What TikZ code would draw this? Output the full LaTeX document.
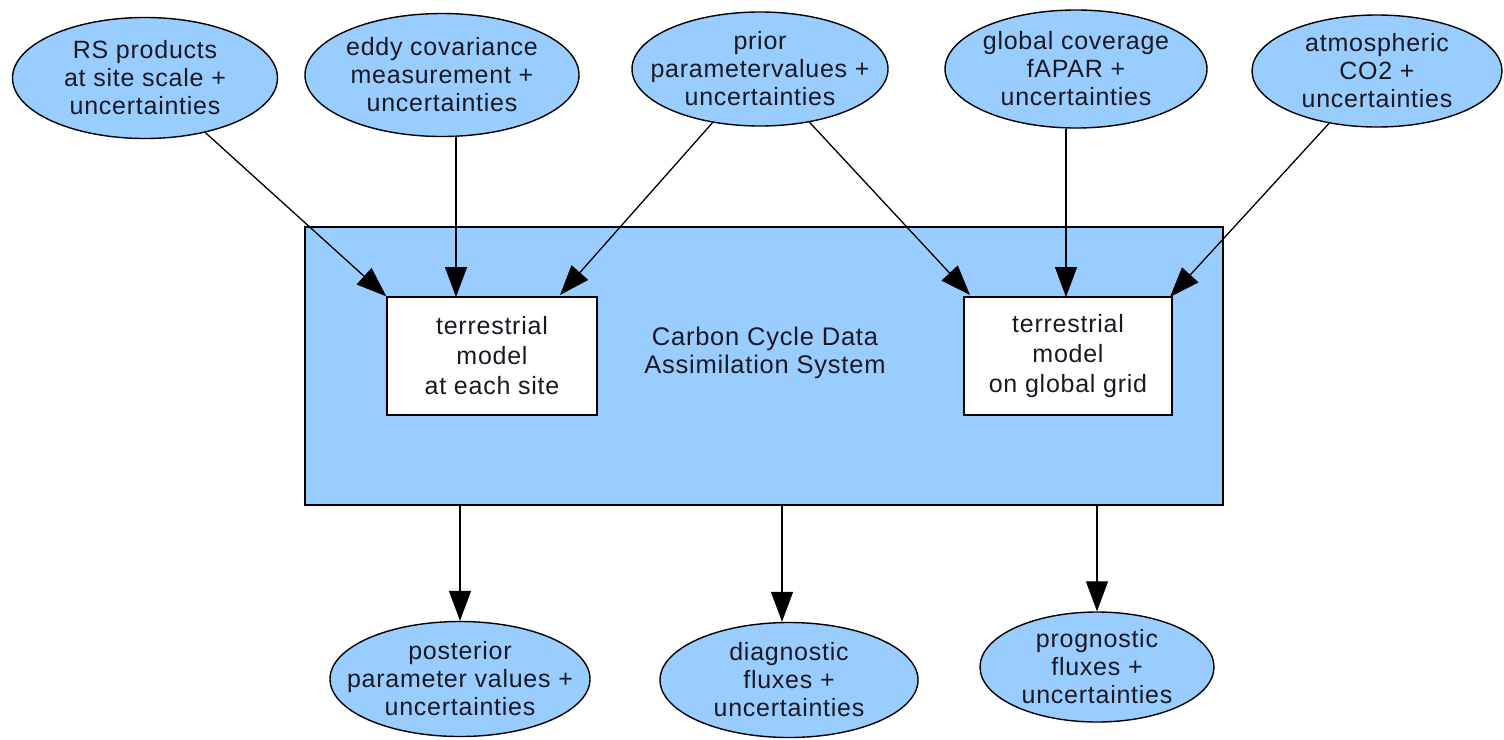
\documentclass[tikz,border=0pt]{standalone}
\usepackage{fontspec}
\setmainfont{Liberation Sans}[LetterSpace=3]
\usetikzlibrary{arrows.meta,shapes.geometric}
\definecolor{skyb}{RGB}{153,204,255}
\definecolor{txt}{RGB}{25,25,35}
\begin{document}
\begin{tikzpicture}[x=1pt,y=-1pt,
  ell/.style={ellipse, draw=black, line width=1.4pt, fill=skyb, inner xsep=-40pt, inner ysep=-10pt,
    align=center, text=txt, font=\fontsize{25}{28}\selectfont},
  modelbox/.style={draw=black, line width=1.4pt, fill=white, inner sep=0pt,
    minimum width=210pt, minimum height=118pt, align=center, text=txt,
    font=\fontsize{25}{30}\selectfont},
  arr/.style={line width=1.3pt, -{Triangle[length=30pt,width=22pt]}}]
\useasboundingbox (0,0) rectangle (1504,739);
% big system box
\node[draw=black, line width=1.4pt, fill=skyb, minimum width=918pt, minimum height=278pt, inner sep=0pt]
  (sys) at (764,366) {};
\node[align=center, text=txt, font=\fontsize{25.5}{28}\selectfont] (sysl) at (765,353) {Carbon Cycle Data\\Assimilation System};
\node[modelbox] (lbox) at (492,356) {terrestrial\\model\\at each site};
\node[modelbox, minimum width=208pt] (rbox) at (1068,356) {terrestrial\\model\\on global grid};
% top ellipses
\node[ell, minimum width=265pt, minimum height=121pt] (rs) at (145,78) {RS products\\at site scale +\\uncertainties};
\node[ell, minimum width=274pt, minimum height=123pt] (eddy) at (442,75) {eddy covariance\\measurement +\\uncertainties};
\node[ell, minimum width=256pt, minimum height=114pt] (prior) at (760,69) {prior\\parametervalues +\\uncertainties};
\node[ell, minimum width=262pt, minimum height=118pt] (glob) at (1076,69) {global coverage\\fAPAR +\\uncertainties};
\node[ell, minimum width=250pt, minimum height=112pt] (atm) at (1377,71) {atmospheric\\CO2 +\\uncertainties};
% bottom ellipses
\node[ell, minimum width=260pt, minimum height=115pt] (post) at (460,679) {posterior\\parameter values +\\uncertainties};
\node[ell, minimum width=258pt, minimum height=115pt] (diag) at (789,680) {diagnostic\\fluxes +\\uncertainties};
\node[ell, minimum width=234pt, minimum height=110pt] (prog) at (1097,667) {prognostic\\fluxes +\\uncertainties};
% target coordinates
\coordinate (a1) at (456,297);
\coordinate (a2) at (560,295);
\coordinate (a3) at (970,295);
\coordinate (a4) at (1066,297);
\coordinate (a5) at (1170,297);
\coordinate (b2) at (782,0);
% connectors in
\draw[arr] (rs) -- (lbox.north west);
\draw[arr] (eddy.south -| a1) -- (a1);
\draw[arr] (prior) -- (a2);
\draw[arr] (prior) -- (a3);
\draw[arr] (glob.south -| a4) -- (a4);
\draw[arr] (atm) -- (a5);
% connectors out
\draw[arr] (sys.south -| post) -- (post.north);
\draw[arr] (sys.south -| b2) -- (diag.north -| b2);
\draw[arr] (sys.south -| prog) -- (prog.north);
\end{tikzpicture}
\end{document}
